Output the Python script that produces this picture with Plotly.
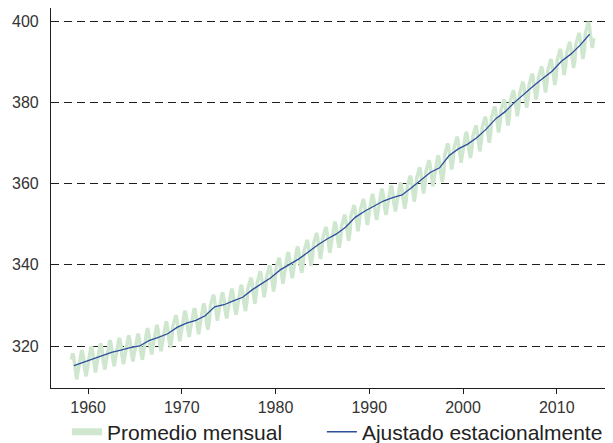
import plotly.graph_objects as go

# ---- datos (ppm CO2, Mauna Loa) ----
ANIOS = list(range(1958, 2014))
MEDIA_ANUAL = [
    315.2, 315.98, 316.91, 317.64, 318.45, 318.99, 319.62, 320.04, 321.37, 322.18,
    323.05, 324.62, 325.68, 326.32, 327.46, 329.68, 330.19, 331.12, 332.03, 333.84,
    335.41, 336.84, 338.76, 340.12, 341.48, 343.15, 344.87, 346.35, 347.61, 349.31,
    351.69, 353.20, 354.45, 355.70, 356.54, 357.21, 358.96, 360.97, 362.74, 363.88,
    366.84, 368.54, 369.71, 371.32, 373.45, 375.98, 377.70, 379.98, 382.09, 384.02,
    385.83, 387.64, 390.10, 391.85, 394.06, 396.74,
]
# ciclo estacional (desvío mensual respecto de la media anual, ene..dic)
CICLO_MES = [0.2, 0.8, 1.5, 2.6, 3.0, 2.3, 0.8, -1.4, -3.2, -3.4, -2.2, -1.0]
MES_INICIO_1958 = 3  # la serie arranca en marzo de 1958

GRIS = "#333333"; NEGRO = "#1e1e1e"; AZUL = "#2c4e9c"; VERDE = "#cfe7cf"

# serie mensual = nivel anual + ciclo estacional
x_mes, y_mes = [], []
for anio, media in zip(ANIOS, MEDIA_ANUAL):
    for m, d in enumerate(CICLO_MES, start=1):
        if anio == 1958 and m < MES_INICIO_1958:
            continue
        x_mes.append(anio + (m - 0.5) / 12)
        y_mes.append(media + d)

fig = go.Figure()
fig.add_scatter(x=x_mes, y=y_mes, mode="lines", showlegend=False,
                line=dict(color=VERDE, width=3.5))
# entrada de leyenda con trazo grueso (como en el original)
fig.add_scatter(x=[None], y=[None], mode="lines", name="Promedio mensual",
                line=dict(color=VERDE, width=7), legend="legend")
fig.add_scatter(x=[a + 0.5 for a in ANIOS], y=MEDIA_ANUAL, mode="lines",
                name="Ajustado estacionalmente", line=dict(color=AZUL, width=1.3),
                legend="legend2")

ley = dict(orientation="h", xanchor="left", yanchor="middle", y=-0.116,
           font=dict(size=21, color="#222"), bgcolor="rgba(0,0,0,0)")

fig.update_layout(
    width=605, height=435, paper_bgcolor="white", plot_bgcolor="white",
    margin=dict(l=43, r=0, t=0, b=55, autoexpand=False),
    font=dict(family="Liberation Sans, Arial, sans-serif", color=GRIS, size=16),
    showlegend=True,
    legend=dict(ley, x=0.0285),
    legend2=dict(ley, x=0.482),
    xaxis=dict(range=[1956.05, 2016], tickvals=[1960, 1970, 1980, 1990, 2000, 2010],
               showgrid=False, zeroline=False, showline=True, linecolor=NEGRO,
               linewidth=1.2, ticks="outside", ticklen=5, tickcolor=NEGRO,
               automargin=False, tickfont=dict(size=16, color=GRIS)),
    yaxis=dict(range=[309.7, 403.2], tickvals=[320, 340, 360, 380, 400],
               showgrid=True, gridcolor=NEGRO, gridwidth=1.1, griddash="8px,5px",
               zeroline=False, showline=True, linecolor=NEGRO, linewidth=1.2,
               ticks="", ticklabelstandoff=8, automargin=False,
               tickfont=dict(size=16, color=GRIS)),
)

fig.write_html("out.html")
